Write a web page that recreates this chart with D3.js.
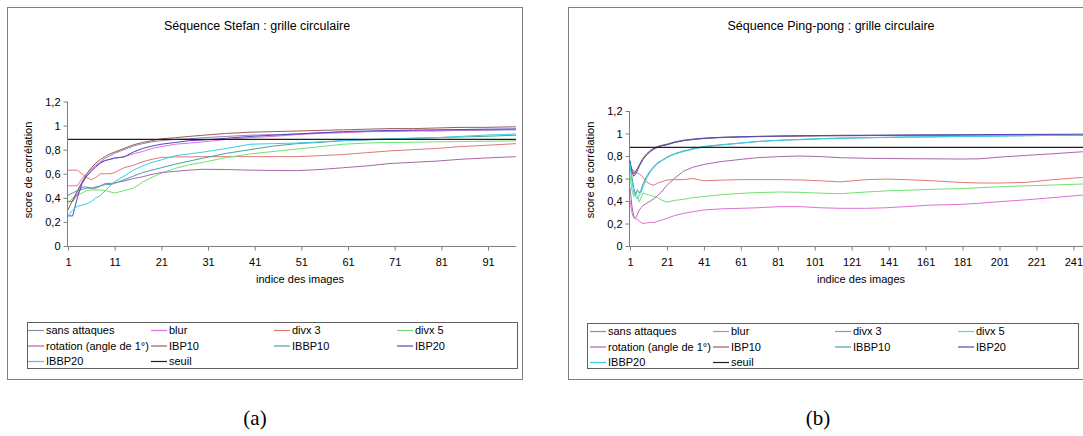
<!DOCTYPE html>
<html><head><meta charset="utf-8">
<script src="https://cdn.jsdelivr.net/npm/d3@7"></script>
<style>body{margin:0;background:#fff;}svg{display:block;}text{font-family:"Liberation Sans",Arial,sans-serif;fill:#000;}</style>
</head><body><svg id="c" width="1083" height="436"></svg>
<script>
const seriesNames = ["sans attaques","blur","divx 3","divx 5","rotation (angle de 1°)","IBP10","IBBP10","IBP20","IBBP20","seuil"];
const seriesColors = ["#9088b8","#e070d8","#e07878","#70e070","#a868a8","#a05a5a","#48a0a8","#5048c0","#38d0e0","#202020"];
const yTicks = [0,0.2,0.4,0.6,0.8,1,1.2];

// Séquence Stefan
const stefanIdx = [1,2,3,4,5,6,7,8,9,10,11,13,15,17,19,21,24,27,30,35,40,45,50,55,60,65,70,75,80,85,90,97];
const stefanSans = [0.37,0.37,0.45,0.52,0.58,0.63,0.67,0.70,0.73,0.75,0.77,0.80,0.83,0.85,0.865,0.875,0.885,0.89,0.90,0.91,0.92,0.925,0.93,0.94,0.945,0.95,0.95,0.955,0.955,0.96,0.96,0.965];
const stefanBlur = [0.50,0.50,0.50,0.56,0.60,0.64,0.67,0.70,0.71,0.72,0.73,0.74,0.765,0.785,0.81,0.825,0.845,0.855,0.865,0.885,0.90,0.91,0.925,0.935,0.94,0.95,0.955,0.96,0.96,0.965,0.965,0.97];
const stefanDivx3 = [0.63,0.63,0.63,0.60,0.57,0.55,0.57,0.60,0.60,0.60,0.61,0.65,0.67,0.70,0.72,0.735,0.74,0.74,0.742,0.742,0.742,0.742,0.742,0.75,0.76,0.775,0.79,0.80,0.81,0.825,0.835,0.85];
const stefanDivx5 = [0.35,0.40,0.42,0.44,0.46,0.465,0.465,0.465,0.46,0.45,0.44,0.46,0.48,0.53,0.57,0.605,0.645,0.675,0.695,0.735,0.765,0.785,0.805,0.825,0.845,0.855,0.86,0.862,0.865,0.867,0.87,0.873];
const stefanRot = [0.37,0.37,0.43,0.49,0.49,0.48,0.48,0.50,0.52,0.52,0.525,0.54,0.56,0.575,0.595,0.61,0.62,0.63,0.637,0.635,0.63,0.627,0.626,0.635,0.65,0.665,0.685,0.695,0.705,0.72,0.73,0.742];
const stefanIBP10 = [0.30,0.38,0.46,0.53,0.60,0.65,0.69,0.72,0.745,0.765,0.78,0.81,0.84,0.86,0.875,0.89,0.90,0.91,0.92,0.935,0.945,0.95,0.955,0.96,0.965,0.97,0.975,0.975,0.98,0.985,0.985,0.99];
const stefanIBBP10 = [0.42,0.44,0.46,0.47,0.48,0.48,0.49,0.50,0.51,0.51,0.52,0.55,0.58,0.61,0.63,0.65,0.68,0.705,0.73,0.77,0.80,0.83,0.85,0.86,0.875,0.88,0.89,0.895,0.90,0.905,0.91,0.92];
const stefanIBP20 = [0.25,0.25,0.40,0.52,0.58,0.62,0.66,0.69,0.71,0.72,0.73,0.74,0.78,0.81,0.83,0.845,0.86,0.875,0.88,0.895,0.91,0.92,0.93,0.94,0.95,0.955,0.96,0.962,0.965,0.967,0.97,0.972];
const stefanIBBP20 = [0.25,0.30,0.33,0.34,0.35,0.37,0.40,0.42,0.46,0.50,0.535,0.58,0.63,0.665,0.695,0.715,0.75,0.765,0.78,0.81,0.845,0.85,0.855,0.865,0.875,0.885,0.89,0.895,0.90,0.91,0.92,0.93];
const stefanSeuil = 0.885;
const stefanXTicks = [1,11,21,31,41,51,61,71,81,91];

// Séquence Ping-pong
const pingIdx = [1,2,3,4,5,6,7,8,10,12,14,16,18,21,25,30,35,41,50,61,70,82,93,104,115,129,140,150,165,180,190,201,215,230,246,250];
const pingSans = [0.72,0.66,0.64,0.65,0.68,0.71,0.74,0.77,0.81,0.84,0.86,0.875,0.89,0.90,0.92,0.935,0.945,0.955,0.963,0.968,0.972,0.975,0.977,0.979,0.98,0.981,0.982,0.983,0.984,0.985,0.986,0.987,0.988,0.988,0.989,0.99];
const pingBlur = [0.41,0.30,0.25,0.24,0.24,0.22,0.21,0.20,0.205,0.21,0.21,0.22,0.23,0.246,0.27,0.29,0.305,0.32,0.33,0.335,0.34,0.35,0.35,0.34,0.335,0.335,0.34,0.35,0.364,0.37,0.38,0.394,0.41,0.43,0.453,0.46];
const pingDivx3 = [0.705,0.69,0.67,0.66,0.65,0.64,0.63,0.61,0.57,0.55,0.54,0.56,0.57,0.587,0.59,0.59,0.60,0.58,0.585,0.59,0.59,0.59,0.587,0.58,0.57,0.59,0.595,0.59,0.58,0.565,0.56,0.56,0.565,0.59,0.61,0.615];
const pingDivx5 = [0.63,0.50,0.44,0.48,0.44,0.39,0.43,0.47,0.46,0.45,0.44,0.43,0.41,0.39,0.405,0.415,0.43,0.44,0.455,0.468,0.475,0.48,0.477,0.47,0.465,0.48,0.49,0.495,0.504,0.51,0.518,0.527,0.535,0.542,0.551,0.553];
const pingRot = [0.52,0.36,0.26,0.25,0.28,0.32,0.34,0.36,0.38,0.40,0.42,0.45,0.48,0.54,0.60,0.665,0.70,0.725,0.75,0.77,0.785,0.795,0.80,0.795,0.785,0.78,0.778,0.776,0.775,0.773,0.775,0.79,0.805,0.82,0.838,0.84];
const pingIBP10 = [0.74,0.68,0.65,0.66,0.69,0.72,0.75,0.78,0.82,0.85,0.87,0.885,0.895,0.905,0.925,0.94,0.948,0.957,0.965,0.97,0.973,0.976,0.978,0.98,0.981,0.982,0.983,0.984,0.985,0.986,0.987,0.988,0.989,0.99,0.99,0.99];
const pingIBBP10 = [0.75,0.62,0.52,0.46,0.50,0.47,0.50,0.55,0.62,0.67,0.71,0.74,0.76,0.79,0.82,0.845,0.865,0.885,0.90,0.915,0.93,0.94,0.945,0.952,0.957,0.962,0.965,0.968,0.97,0.974,0.976,0.978,0.98,0.983,0.985,0.985];
const pingIBP20 = [0.76,0.66,0.62,0.64,0.67,0.71,0.74,0.77,0.81,0.84,0.865,0.88,0.89,0.90,0.92,0.938,0.95,0.958,0.966,0.971,0.975,0.978,0.98,0.982,0.984,0.985,0.986,0.987,0.988,0.989,0.99,0.991,0.992,0.993,0.994,0.994];
const pingIBBP20 = [0.73,0.58,0.48,0.44,0.42,0.45,0.48,0.52,0.60,0.66,0.70,0.73,0.755,0.785,0.815,0.84,0.86,0.88,0.897,0.915,0.927,0.94,0.948,0.955,0.96,0.963,0.966,0.969,0.971,0.974,0.976,0.978,0.981,0.983,0.985,0.985];
const pingSeuil = 0.877;
const pingXTicks = [1,21,41,61,81,101,121,141,161,181,201,221,241];

const svg = d3.select("#c");
svg.append("rect").attr("width",1083).attr("height",436).attr("fill","#fff");

function drawChart(o){
  const g = svg.append("g");
  g.append("rect").attr("x",o.frame[0]+0.5).attr("y",o.frame[1]+0.5).attr("width",o.frame[2]).attr("height",o.frame[3])
    .attr("fill","#fff").attr("stroke","#808080").attr("stroke-width",1);
  g.append("text").attr("x",o.titleX).attr("y",30).attr("text-anchor","middle").style("font-size","12.5px").text(o.title);
  const x = d3.scaleLinear().domain(o.xDomain).range(o.xRange);
  const y = d3.scaleLinear().domain([0,1.2]).range([246,o.yTop]);
  const ya = g.append("g").attr("transform",`translate(${o.xRange[0]-0.5},0)`)
    .call(d3.axisLeft(y).tickValues(yTicks).tickSize(4).tickPadding(3).tickFormat(d=>d3.format(".1~f")(d).replace(".",",")));
  ya.select(".domain").attr("stroke","#808080").attr("d",`M-0,${y(1.2)}V${y(0)}`);
  ya.selectAll(".tick line").attr("stroke","#808080");
  ya.selectAll("text").style("font-size","11px");
  const xa = g.append("g").attr("transform",`translate(0,${246.5})`)
    .call(d3.axisBottom(x).tickValues(o.xTicks).tickSize(4).tickPadding(8).tickFormat(d3.format("d")));
  xa.select(".domain").attr("stroke","#808080").attr("d",`M${o.xRange[0]-1},0H${o.xRange[1]}`);
  xa.selectAll(".tick line").attr("stroke","#808080");
  xa.selectAll("text").style("font-size","11px");
  g.append("text").attr("x",o.xTitleX).attr("y",283).attr("text-anchor","middle").style("font-size","11px").text("indice des images");
  g.append("text").attr("transform",`translate(${o.yTitleX},${o.yTitleY}) rotate(-90)`).attr("text-anchor","middle").style("font-size","11px").text("score de corrélation");
  const line = d3.line().x((d,i)=>x(o.idx[i])).y(d=>y(d));
  o.series.forEach((s,k)=>{
    g.append("path").datum(s).attr("d",line).attr("fill","none").attr("stroke",seriesColors[k]).attr("stroke-width",1);
  });
  g.append("line").attr("x1",x(o.xDomain[0])).attr("x2",x(o.xDomain[1])).attr("y1",y(o.seuil)).attr("y2",y(o.seuil))
    .attr("stroke",seriesColors[9]).attr("stroke-width",1.3);
  g.append("rect").attr("x",o.legend[0]+0.5).attr("y",o.legend[1]+0.5).attr("width",o.legend[2]).attr("height",o.legend[3])
    .attr("fill","#fff").attr("stroke","#606060");
  seriesNames.forEach((n,k)=>{
    const col = k%4, row = Math.floor(k/4);
    const lx = o.legendCols[col], ly = o.legend[1]+8+row*15.5;
    g.append("line").attr("x1",lx).attr("x2",lx+16).attr("y1",ly+0.5).attr("y2",ly+0.5).attr("stroke",seriesColors[k]).attr("stroke-width",1.2);
    g.append("text").attr("x",lx+18).attr("y",ly+4).style("font-size","11px").text(n);
  });
}

drawChart({
  frame:[7,7,515,372], title:"Séquence Stefan : grille circulaire", titleX:257,
  xDomain:[1,97], xRange:[68,516], yTop:101.5, xTicks:stefanXTicks, xTitleX:300, yTitleX:32, yTitleY:170,
  idx:stefanIdx, series:[stefanSans,stefanBlur,stefanDivx3,stefanDivx5,stefanRot,stefanIBP10,stefanIBBP10,stefanIBP20,stefanIBBP20],
  seuil:stefanSeuil, legend:[27,322,490,46], legendCols:[28,151,274,397]
});
drawChart({
  frame:[568,7,540,372], title:"Séquence Ping-pong : grille circulaire", titleX:831,
  xDomain:[1,250], xRange:[630,1090], yTop:111, xTicks:pingXTicks, xTitleX:861, yTitleX:594, yTitleY:170,
  idx:pingIdx, series:[pingSans,pingBlur,pingDivx3,pingDivx5,pingRot,pingIBP10,pingIBBP10,pingIBP20,pingIBBP20],
  seuil:pingSeuil, legend:[587,323,491,45], legendCols:[590,713,835,958]
});

svg.append("text").attr("x",255).attr("y",425).attr("text-anchor","middle").style("font-family","Liberation Serif, Times New Roman, serif").style("font-size","21px").text("(a)");
svg.append("text").attr("x",818).attr("y",425).attr("text-anchor","middle").style("font-family","Liberation Serif, Times New Roman, serif").style("font-size","21px").text("(b)");
</script></body></html>
